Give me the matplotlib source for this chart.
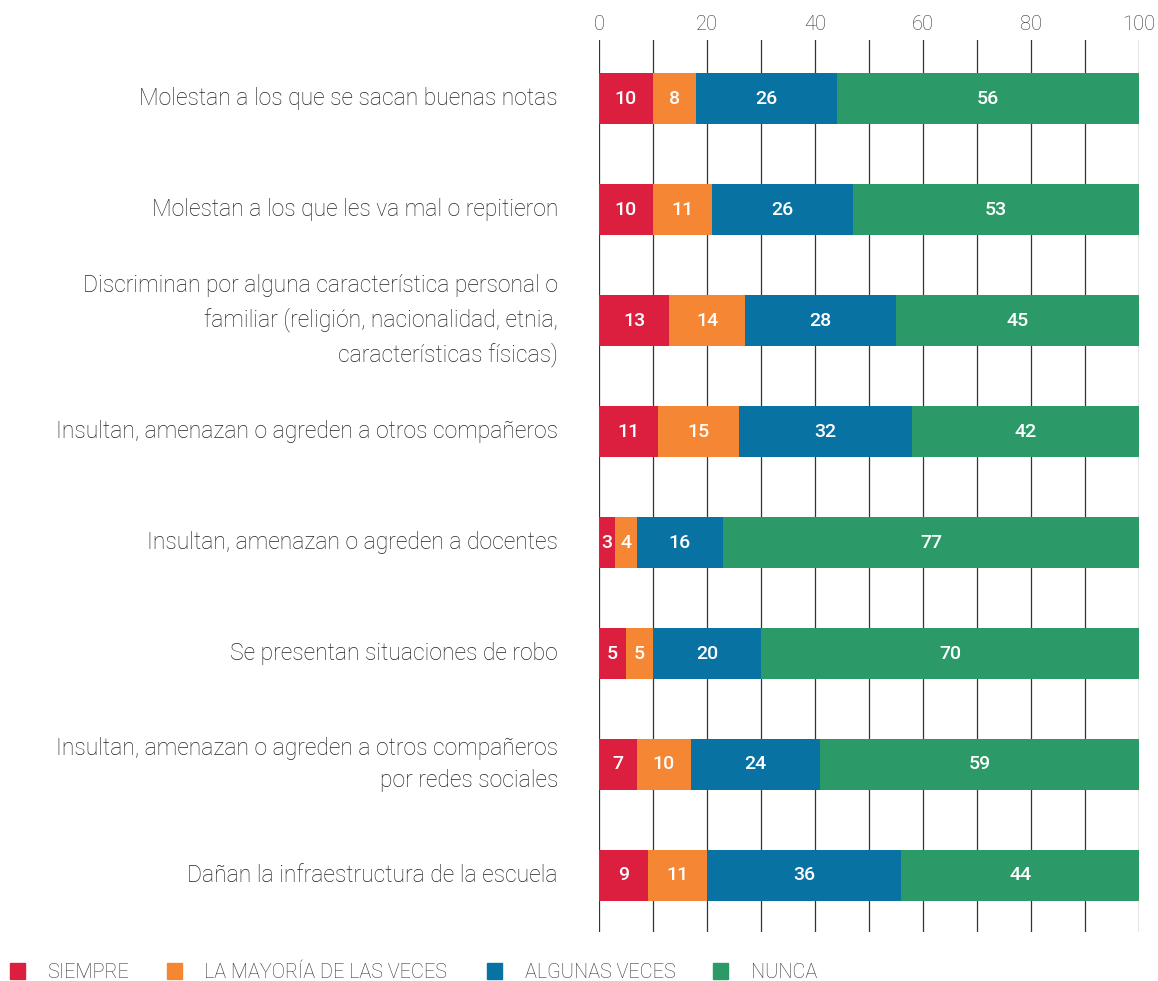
import matplotlib
matplotlib.use("Agg")
import matplotlib.pyplot as plt
from matplotlib.patches import Rectangle
import numpy as np

plt.rcParams['font.family'] = ['Roboto', 'DejaVu Sans']

categories = [
    "Molestan a los que se sacan buenas notas",
    "Molestan a los que les va mal o repitieron",
    "Discriminan por alguna característica personal o\nfamiliar (religión, nacionalidad, etnia,\ncaracterísticas físicas)",
    "Insultan, amenazan o agreden a otros compañeros",
    "Insultan, amenazan o agreden a docentes",
    "Se presentan situaciones de robo",
    "Insultan, amenazan o agreden a otros compañeros\npor redes sociales",
    "Dañan la infraestructura de la escuela",
]
siempre = [10, 10, 13, 11, 3, 5, 7, 9]
mayoria = [8, 11, 14, 15, 4, 5, 10, 11]
algunas = [26, 26, 28, 32, 16, 20, 24, 36]
nunca = [56, 53, 45, 42, 77, 70, 59, 44]

series_labels = ["SIEMPRE", "LA MAYORÍA DE LAS VECES", "ALGUNAS VECES", "NUNCA"]
colors = ["#DC1F3F", "#F58634", "#0872A2", "#2B9A68"]

W, H = 1158, 981
fig = plt.figure(figsize=(W / 100, H / 100), dpi=100)
ax = fig.add_axes([599 / W, 1 - 932 / H, 540 / W, 892 / H])

y = np.arange(len(categories))
left = np.zeros(len(categories))
for vals, col in zip([siempre, mayoria, algunas, nunca], colors):
    vals = np.array(vals, dtype=float)
    ax.barh(y, vals, left=left, height=0.46, color=col, zorder=2)
    for yi, l, v in zip(y, left, vals):
        ax.text(l + v / 2, yi, f"{int(v)}", ha='center', va='center',
                color='white', fontsize=14, fontweight='medium', zorder=3)
    left += vals

ax.set_xlim(0, 100)
ax.set_ylim(7.51, -0.53)

for gx in range(0, 101, 10):
    ax.axvline(gx, color='#333333', lw=0.9, zorder=1)

ax.xaxis.tick_top()
ax.set_xticks(range(0, 101, 20))
ax.tick_params(axis='x', length=0, pad=4, labelsize=14.5, labelcolor='#333333')
for lab in ax.get_xticklabels():
    lab.set_fontweight('light')
ax.set_yticks([])
for s in ax.spines.values():
    s.set_visible(False)

for yi, cat in zip(y, categories):
    ax.text(-7.6, yi, cat, ha='right', va='center', fontsize=16.5,
            fontweight='light', color='#222222', linespacing=1.55)

# legend along the bottom
leg_x = [10, 167, 487, 713]
for lx, col in zip(leg_x, colors):
    fig.patches.append(Rectangle((lx / W, 1 - 979 / H), 15 / W, 16 / H,
                                 transform=fig.transFigure, color=col))
for tx, lab in zip([47, 204, 525, 751], series_labels):
    fig.text(tx / W, 1 - 972 / H, lab, ha='left', va='center',
             fontsize=14.3, fontweight='light', color='#333333')

fig.savefig("out.png", dpi=100)
